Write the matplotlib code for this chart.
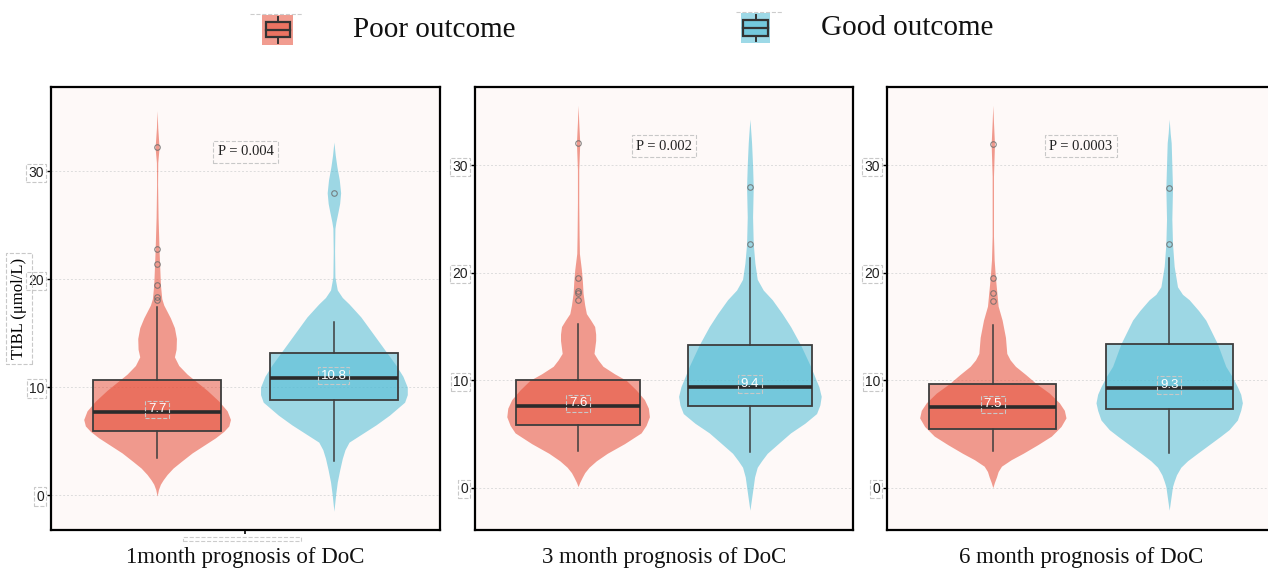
import matplotlib
matplotlib.use('Agg')
import matplotlib.pyplot as plt
from matplotlib.patches import Rectangle

# ---------------- data ----------------
groups = ['Poor outcome', 'Good outcome']
panel_titles = ['1month prognosis of DoC', '3 month prognosis of DoC', '6 month prognosis of DoC']
p_labels = ['P = 0.004', 'P = 0.002', 'P = 0.0003']
y_ticks = [0, 10, 20, 30]
y_label = 'TIBL (μmol/L)'

# box statistics per panel: [poor, good]
box_q1 = [[5.93, 8.8], [5.8, 7.6], [5.47, 7.3]]
box_med = [[7.7, 10.8], [7.6, 9.4], [7.5, 9.3]]
box_q3 = [[10.62, 13.2], [10.0, 13.3], [9.65, 13.4]]
whisk_lo = [[3.46, 3.18], [3.4, 3.3], [3.4, 3.2]]
whisk_hi = [[17.44, 16.0], [15.2, 21.4], [15.1, 21.4]]
fliers = [
    [[32.2, 22.75, 21.4, 19.5, 18.3, 18.1], [28.0]],
    [[32.1, 19.5, 18.3, 18.1, 17.5], [28.0, 22.7]],
    [[32.0, 19.5, 18.1, 17.4], [27.9, 22.7]],
]
median_labels = [['7.7', '10.8'], ['7.6', '9.4'], ['7.5', '9.3']]

# violin outlines: heights and relative half-widths
vio_y = [
    [[35.6, 34.0, 32.2, 30.8, 28.8, 25.7, 22.6, 19.5, 18.2, 17.6, 17.0, 16.4, 15.5, 14.5, 13.5, 12.8,
      12.0, 11.2, 10.7, 9.7, 8.7, 7.8, 7.0, 6.4, 5.9, 5.3, 4.6, 3.9, 3.1, 2.5, 1.9, 1.4, 1.0, 0.5, -0.1],
     [32.7, 31.5, 30.4, 29.2, 28.0, 27.0, 26.2, 25.3, 24.7, 22.6, 20.2, 19.0, 18.3, 17.7, 16.5, 15.0,
      13.5, 12.0, 11.0, 10.0, 9.3, 8.6, 7.4, 6.5, 5.8, 5.3, 4.9, 4.2, 3.4, 2.3, 1.2, 0.0, -1.5]],
    [[35.6, 34.0, 32.1, 29.6, 26.5, 23.5, 21.8, 20.3, 19.2, 18.1, 17.0, 16.2, 15.6, 15.0, 14.3, 13.7,
      12.5, 11.9, 11.3, 10.6, 10.0, 9.1, 8.2, 7.4, 6.6, 5.8, 5.1, 4.1, 3.2, 2.5, 1.9, 1.4, 1.0, 0.5, 0.1],
     [34.3, 33.0, 32.1, 30.0, 28.0, 25.2, 22.7, 20.9, 19.4, 18.4, 17.5, 16.2, 15.0, 13.3, 11.3, 10.3,
      9.4, 8.5, 7.7, 6.9, 6.0, 5.1, 4.1, 3.2, 2.5, 1.9, 1.0, 0.1, -1.0, -2.1]],
    [[35.6, 34.0, 32.0, 29.0, 23.4, 21.2, 19.5, 18.2, 16.9, 15.6, 14.0, 12.5, 11.9, 11.3, 10.5, 9.7,
      8.8, 7.9, 7.2, 6.5, 5.7, 4.8, 4.0, 3.2, 2.6, 2.0, 1.5, 1.0, 0.5, 0.0],
     [34.3, 33.0, 32.1, 30.0, 27.9, 25.0, 22.7, 20.6, 18.7, 18.0, 17.5, 16.5, 15.6, 13.4, 11.3, 10.3,
      9.4, 8.7, 7.9, 7.2, 6.3, 5.4, 4.8, 4.0, 3.2, 2.5, 1.9, 1.2, 0.6, 0.1, -1.0, -2.1]],
]
vio_w = [
    [[0, 2, 6, 2, 1.5, 3, 6, 10, 14, 20, 30, 40, 52, 58, 57, 52, 65, 90, 110, 150, 185, 210, 220, 215,
      200, 175, 140, 105, 72, 48, 30, 18, 10, 4, 0],
     [0, 4, 9, 16, 20, 17, 12, 6, 3, 2, 3, 10, 25, 45, 80, 115, 150, 185, 205, 218, 218, 210, 165,
      125, 90, 65, 45, 33, 25, 17, 10, 5, 0]],
    [[0, 2, 5, 2, 2, 3, 4, 10, 13, 15, 20, 25, 38, 50, 53, 53, 48, 60, 75, 110, 145, 175, 200, 212,
      215, 205, 190, 140, 88, 55, 33, 20, 13, 5, 0],
     [0, 3, 5, 8, 10, 8, 10, 15, 22, 40, 67, 97, 122, 152, 182, 195, 207, 214, 210, 200, 165, 122, 85,
      52, 35, 22, 14, 10, 5, 0]],
    [[0, 2, 5, 2, 2, 4, 8, 12, 16, 28, 38, 42, 52, 68, 100, 130, 170, 200, 215, 220, 205, 176, 135,
      91, 55, 26, 16, 11, 5, 0],
     [0, 3, 6, 8, 10, 8, 10, 15, 25, 40, 60, 88, 110, 145, 170, 190, 205, 215, 220, 215, 205, 180,
      155, 120, 85, 55, 35, 22, 15, 10, 5, 0]],
]

# ---------------- style ----------------
colors = ['#E64B35', '#4DBBD5']
bg = '#FEF9F8'
serif = ['Liberation Serif', 'DejaVu Serif']
sans = ['Liberation Sans', 'DejaVu Sans']
W, H = 1268, 569
fig = plt.figure(figsize=(W / 100, H / 100), dpi=100)
fig.patch.set_facecolor('white')

panel_px = [(51, 389), (475, 378), (887, 388)]
top_px, bot_px = 87, 530
ylims = [(-3.24, 37.8), (-3.94, 37.3), (-3.94, 37.3)]
positions = [1, 2]
vio_half = 0.415
box_width = 0.72


def dashed_box(pad=0.15):
    return dict(boxstyle='square,pad=%s' % pad, fc='none', ec='#c8c8c8', ls='--', lw=0.8)


for i, (lx, wx) in enumerate(panel_px):
    ax = fig.add_axes([lx / W, 1 - bot_px / H, wx / W, (bot_px - top_px) / H])
    ax.set_facecolor(bg)
    ax.set_xlim(0.4, 2.6)
    ax.set_ylim(*ylims[i])
    for yt in y_ticks:
        ax.axhline(yt, color='#dddddd', lw=0.7, ls=(0, (2, 2)), zorder=0)
    # violins
    for g in range(2):
        ys = vio_y[i][g]
        mx = max(vio_w[i][g])
        ws = [vio_half * w / mx for w in vio_w[i][g]]
        x0 = positions[g]
        ax.fill_betweenx(ys, [x0 - w for w in ws], [x0 + w for w in ws],
                         color=colors[g], alpha=0.55, lw=0, zorder=1)
    # boxes
    stats = []
    for g in range(2):
        stats.append(dict(med=box_med[i][g], q1=box_q1[i][g], q3=box_q3[i][g],
                          whislo=whisk_lo[i][g], whishi=whisk_hi[i][g],
                          fliers=fliers[i][g], label=groups[g]))
    bp = ax.bxp(stats, positions=positions, widths=box_width, patch_artist=True,
                showcaps=False, manage_ticks=False,
                boxprops=dict(edgecolor='#3d3d3d', lw=1.3),
                medianprops=dict(color='#2b2b2b', lw=2.6),
                whiskerprops=dict(color='#3d3d3d', lw=1.1),
                flierprops=dict(marker='o', markersize=4, markerfacecolor='none',
                                markeredgecolor='#6a6a6a', markeredgewidth=0.8, alpha=0.8))
    for g, patch in enumerate(bp['boxes']):
        patch.set_facecolor(matplotlib.colors.to_rgba(colors[g], 0.5))
        patch.set_zorder(2)
    for k in ('medians', 'whiskers', 'fliers'):
        for art in bp[k]:
            art.set_zorder(3)
    # median labels
    for g in range(2):
        ax.text(positions[g], box_med[i][g] + 0.25, median_labels[i][g], color='white',
                fontsize=9.5, ha='center', va='center', family=sans, zorder=4,
                bbox=dashed_box(0.2))
    # p value
    ax.text(1.5, 31.8, p_labels[i], fontsize=10.5, ha='center', va='center', family=serif,
            color='#222222', zorder=4, bbox=dashed_box(0.3))
    # axes style
    for s in ax.spines.values():
        s.set_color('black')
        s.set_linewidth(1.6)
    ax.set_yticks(y_ticks)
    ax.tick_params(axis='y', length=3, width=1, pad=2, labelsize=10, colors='black')
    for lab in ax.get_yticklabels():
        lab.set_family(sans)
        lab.set_color('#222222')
        lab.set_bbox(dashed_box(0.15))
    if i == 0:
        ax.set_xticks([1.5])
        ax.set_xticklabels([''])
        ax.tick_params(axis='x', length=3, width=1.2)
        ax.set_ylabel(y_label, family=serif, fontsize=12, labelpad=1,
                      bbox=dashed_box(0.3))
    else:
        ax.set_xticks([])
    # bottom titles
    pos = ax.get_position()
    fig.text(pos.x0 + pos.width / 2, 1 - 557 / H, panel_titles[i], family=serif,
             fontsize=16.5, ha='center', va='center', color='#111111')

# empty dashed x label box under first panel
fig.add_artist(Rectangle((183 / W, 1 - 541 / H), 118 / W, 4 / H, transform=fig.transFigure,
                         fill=False, ec='#cccccc', ls='--', lw=0.8))

# ---------------- legend ----------------
leg = fig.add_axes([0, 0, 1, 1], zorder=-1)
leg.set_xlim(0, W)
leg.set_ylim(H, 0)
leg.axis('off')
legend_items = [
    dict(sq=(262, 15, 31, 30), inner=(266, 22, 24, 15), mid=29.5, wx=277.5, line=(250, 303, 14),
         text_x=353, text_y=30),
    dict(sq=(741, 13, 29, 30), inner=(743, 20, 25, 16), mid=28, wx=755.5, line=(736, 783, 12),
         text_x=821, text_y=28),
]
for g, it in enumerate(legend_items):
    x, y, w, h = it['sq']
    leg.add_patch(Rectangle((x, y), w, h, fc=matplotlib.colors.to_rgba(colors[g], 0.55), lw=0))
    ix, iy, iw, ih = it['inner']
    leg.add_patch(Rectangle((ix, iy), iw, ih, fc=matplotlib.colors.to_rgba(colors[g], 0.5),
                            ec='#333333', lw=1.6))
    leg.plot([ix, ix + iw], [it['mid'], it['mid']], color='#333333', lw=1.6)
    leg.plot([it['wx'], it['wx']], [y + 2, iy], color='#333333', lw=1.4)
    leg.plot([it['wx'], it['wx']], [iy + ih, y + h - 2], color='#333333', lw=1.4)
    x0, x1, ly = it['line']
    leg.plot([x0, x1], [ly, ly], color='#cccccc', lw=0.8, ls='--')
    leg.text(it['text_x'], it['text_y'], groups[g], family=serif, fontsize=21,
             ha='left', va='center', color='#111111')

fig.savefig('out.png', dpi=100, facecolor='white')
